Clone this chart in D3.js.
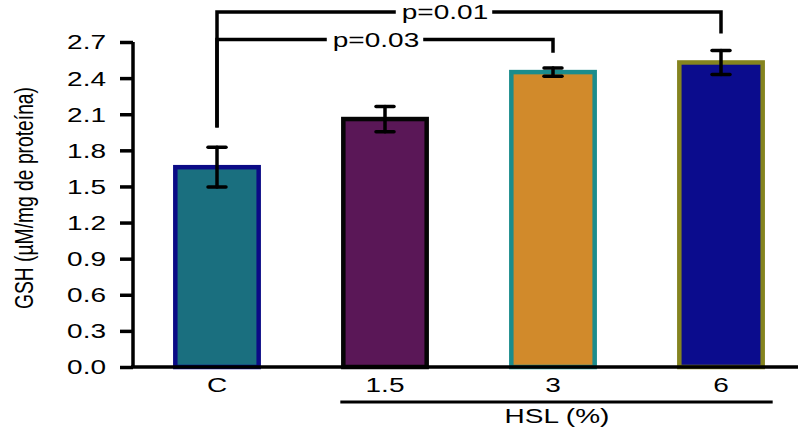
<!DOCTYPE html>
<html>
<head>
<meta charset="utf-8">
<script src="https://cdn.jsdelivr.net/npm/d3@7"></script>
<style>
  body { margin: 0; background: #fff; }
  text { font-family: "Liberation Sans", Arial, sans-serif; fill: #000; }
</style>
</head>
<body>
<svg id="chart" width="798" height="431"></svg>
<script>
// dados
const categorias = ["C", "1.5", "3", "6"];
const medias = [1.66, 2.06, 2.45, 2.53];
const erros = [0.165, 0.105, 0.035, 0.10];
const ticksY = [0, 0.3, 0.6, 0.9, 1.2, 1.5, 1.8, 2.1, 2.4, 2.7];
const corPreench = ["#1a6f7f", "#5a1757", "#d18a2b", "#0b0c8d"];
const corBorda = ["#0b0b86", "#050505", "#1b8c8c", "#85841f"];
const comparacoes = [
  { de: "C", para: "3", texto: "p=0.03", nivel: 2.72, pe: 2.61 },
  { de: "C", para: "6", texto: "p=0.01", nivel: 2.95, pe: 2.77 }
];

const svg = d3.select("#chart");
const esticar = 1.4; // texto da figura original está esticado na horizontal

const x = d3.scaleBand().domain(categorias).range([133, 805]).paddingInner(0.48).paddingOuter(0.24);
const y = d3.scaleLinear().domain([0, 2.7]).range([367, 42]);

// barras
svg.selectAll("rect.barra")
  .data(categorias)
  .join("rect")
  .attr("class", "barra")
  .attr("x", d => x(d) + 2)
  .attr("y", (d, i) => y(medias[i]))
  .attr("width", x.bandwidth() - 4)
  .attr("height", (d, i) => y(0) - y(medias[i]))
  .attr("fill", (d, i) => corPreench[i])
  .attr("stroke", (d, i) => corBorda[i])
  .attr("stroke-width", 4.5);

// barras de erro
categorias.forEach((c, i) => {
  const cx = x(c) + x.bandwidth() / 2;
  const g = svg.append("g")
    .attr("stroke", "#000")
    .attr("stroke-width", 3.5)
    .attr("stroke-linecap", "round");
  g.append("line")
    .attr("x1", cx).attr("x2", cx)
    .attr("y1", y(medias[i] + erros[i])).attr("y2", y(medias[i] - erros[i]));
  [medias[i] + erros[i], medias[i] - erros[i]].forEach(v => {
    g.append("line")
      .attr("x1", cx - 9).attr("x2", cx + 9)
      .attr("y1", y(v)).attr("y2", y(v));
  });
});

// eixo Y
const eixoY = svg.append("g").attr("transform", "translate(133,0)")
  .call(d3.axisLeft(y).tickValues(ticksY).tickFormat(d3.format(".1f")).tickSize(13).tickPadding(0));
eixoY.select(".domain").attr("stroke", "#000").attr("stroke-width", 3.5)
  .attr("d", `M0,${y(2.7)}V${y(0)}`);
eixoY.selectAll(".tick line").attr("stroke", "#000").attr("stroke-width", 3.5);
eixoY.selectAll(".tick text")
  .attr("x", null).attr("dy", null)
  .attr("font-size", 20)
  .attr("font-family", "Liberation Sans, Arial, sans-serif")
  .attr("text-anchor", "end")
  .attr("dominant-baseline", "central")
  .attr("transform", `translate(-27,0) scale(${esticar},1)`);

// eixo X
svg.append("line")
  .attr("x1", 131).attr("x2", 798)
  .attr("y1", y(0)).attr("y2", y(0))
  .attr("stroke", "#000").attr("stroke-width", 3.5);

svg.selectAll("text.cat")
  .data(categorias)
  .join("text")
  .attr("class", "cat")
  .attr("text-anchor", "middle")
  .attr("font-size", 20)
  .attr("transform", d => `translate(${x(d) + x.bandwidth() / 2},392) scale(${esticar},1)`)
  .text(d => d);

// linha HSL
svg.append("line")
  .attr("x1", x("1.5") - 1).attr("x2", x("6") + x.bandwidth() + 8)
  .attr("y1", 402).attr("y2", 402)
  .attr("stroke", "#000").attr("stroke-width", 3);
svg.append("text")
  .attr("text-anchor", "middle")
  .attr("font-size", 20)
  .attr("transform", `translate(557,423) scale(${esticar},1)`)
  .text("HSL (%)");

// titulo eixo Y
svg.append("text")
  .attr("text-anchor", "middle")
  .attr("font-size", 19)
  .attr("textLength", 222)
  .attr("lengthAdjust", "spacingAndGlyphs")
  .attr("transform", `translate(33,198) scale(${esticar},1) rotate(-90)`)
  .text("GSH (µM/mg de proteína)");

// comparações
comparacoes.forEach(cp => {
  const x1 = x(cp.de) + x.bandwidth() / 2;
  const x2 = x(cp.para) + x.bandwidth() / 2;
  const yl = y(cp.nivel);
  const g = svg.append("g").attr("stroke", "#000").attr("stroke-width", 3.5).attr("fill", "none");
  const t = svg.append("text")
    .attr("font-size", 20)
    .attr("text-anchor", "middle")
    .attr("dominant-baseline", "central")
    .text(cp.texto);
  const larg = t.node().getComputedTextLength() * esticar;
  const meio = cp.texto === "p=0.03" ? 376 : 445;
  t.attr("transform", `translate(${meio},${yl}) scale(${esticar},1)`);
  g.append("path")
    .attr("d", `M${x1},${y(1.99)}V${yl}H${meio - larg / 2 - 6}`);
  g.append("path")
    .attr("d", `M${meio + larg / 2 + 4},${yl}H${x2}V${y(cp.pe)}`);
});
</script>
</body>
</html>
